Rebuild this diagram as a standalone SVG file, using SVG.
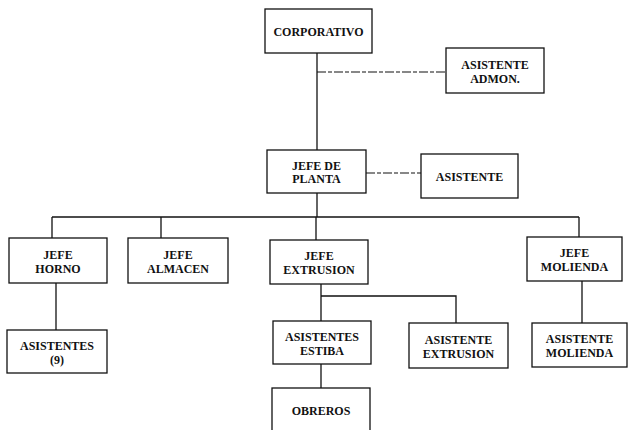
<svg xmlns="http://www.w3.org/2000/svg" width="628" height="430" viewBox="0 0 628 430">
<style>
.box{fill:#fff;stroke:#111;stroke-width:1.3}
.t{font-family:"Liberation Serif","Times New Roman",serif;font-weight:bold;font-size:12px;fill:#111;text-anchor:middle}
.ln{stroke:#111;stroke-width:1.3;fill:none}
.dash{stroke:#111;stroke-width:1.1;fill:none;stroke-dasharray:9 2 4 2}
</style>
<rect width="628" height="430" fill="#fff"/>
<g id="connectors">
<path class="ln" d="M317 53V150"/>
<path class="dash" d="M317 72H446"/>
<path class="dash" d="M366 173H421"/>
<path class="ln" d="M317 193V217"/>
<path class="ln" d="M52 217H579"/>
<path class="ln" d="M52 217V238M161 217V238M316 217V240M579 217V237"/>
<path class="ln" d="M56 283V330"/>
<path class="ln" d="M321 284V321M321 296H456V323"/>
<path class="ln" d="M321 364V388"/>
<path class="ln" d="M582 281V323"/>
</g>
<g id="corporativo"><rect class="box" x="265" y="9" width="107" height="44"/><text class="t" x="318.5" y="36">CORPORATIVO</text></g>
<g id="asistente-admon"><rect class="box" x="446" y="48" width="98" height="45"/><text class="t" x="495" y="69">ASISTENTE</text><text class="t" x="495" y="83">ADMON.</text></g>
<g id="jefe-planta"><rect class="box" x="267" y="150" width="99" height="43"/><text class="t" x="316.5" y="170">JEFE DE</text><text class="t" x="316.5" y="183">PLANTA</text></g>
<g id="asistente"><rect class="box" x="421" y="154" width="97" height="44"/><text class="t" x="469.5" y="181">ASISTENTE</text></g>
<g id="jefe-horno"><rect class="box" x="9" y="238" width="98" height="45"/><text class="t" x="58" y="258.5">JEFE</text><text class="t" x="58" y="272.5">HORNO</text></g>
<g id="jefe-almacen"><rect class="box" x="128" y="238" width="100" height="45"/><text class="t" x="178" y="258.5">JEFE</text><text class="t" x="178" y="272.5">ALMACEN</text></g>
<g id="jefe-extrusion"><rect class="box" x="270" y="240" width="98" height="44"/><text class="t" x="319" y="260">JEFE</text><text class="t" x="319" y="274">EXTRUSION</text></g>
<g id="jefe-molienda"><rect class="box" x="527" y="237" width="95" height="44"/><text class="t" x="574.5" y="257">JEFE</text><text class="t" x="574.5" y="271">MOLIENDA</text></g>
<g id="asistentes-9"><rect class="box" x="7" y="330" width="100" height="43"/><text class="t" x="57" y="349.5">ASISTENTES</text><text class="t" x="57" y="363.5">(9)</text></g>
<g id="asistentes-estiba"><rect class="box" x="273" y="321" width="98" height="43"/><text class="t" x="322" y="340.5">ASISTENTES</text><text class="t" x="322" y="354.5">ESTIBA</text></g>
<g id="asistente-extrusion"><rect class="box" x="409" y="323" width="99" height="45"/><text class="t" x="458.5" y="343.5">ASISTENTE</text><text class="t" x="458.5" y="357.5">EXTRUSION</text></g>
<g id="asistente-molienda"><rect class="box" x="532" y="323" width="95" height="44"/><text class="t" x="579.5" y="343">ASISTENTE</text><text class="t" x="579.5" y="357">MOLIENDA</text></g>
<g id="obreros"><rect class="box" x="272" y="388" width="98" height="52"/><text class="t" x="321" y="415">OBREROS</text></g>
</svg>
